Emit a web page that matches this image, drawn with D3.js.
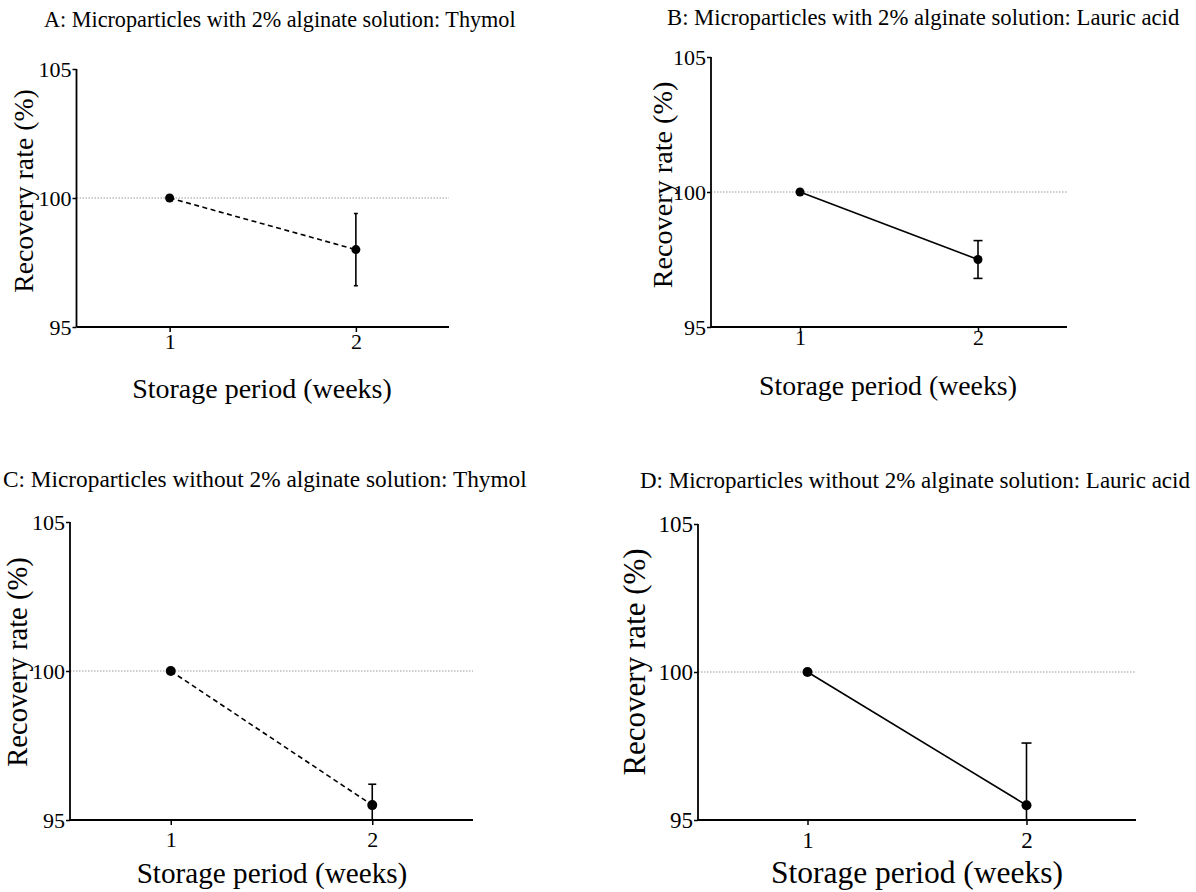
<!DOCTYPE html>
<html>
<head>
<meta charset="utf-8">
<script src="https://cdn.jsdelivr.net/npm/d3@7"></script>
<style>
  html, body { margin: 0; padding: 0; background: #fff; }
  svg { display: block; font-family: "Liberation Serif", "Times New Roman", serif; }
</style>
</head>
<body>
<svg id="chart" width="1196" height="892"></svg>
<script>
// ---- data ----
const weeks = [1, 2];
const xTickLabels = ["1", "2"];
const yTicks = [95, 100, 105];
const referenceLine = 100;

const meanA = [100, 98.0];
const errA  = [0, 1.4];
const meanB = [100, 97.5];
const errB  = [0, 0.7];
const meanC = [100, 95.5];
const errC  = [0, 0.7];
const meanD = [100, 95.5];
const errD  = [0, 2.1];

const titles = [
  "A: Microparticles with 2% alginate solution: Thymol",
  "B: Microparticles with 2% alginate solution: Lauric acid",
  "C: Microparticles without 2% alginate solution: Thymol",
  "D: Microparticles without 2% alginate solution: Lauric acid"
];
const yLabel = "Recovery rate (%)";
const xLabel = "Storage period (weeks)";

// ---- layout ----
const panels = [
  { mean: meanA, err: errA, title: titles[0], dashed: true,
    L: 76.5, R: 449, T: 69, B: 327, tx: 44, ty: 27, tfs: 22.2,
    ylx: 23, yly: 191, ylfs: 27.8, xlx: 262, xly: 398, xlfs: 28, tickfs: 22, xpad: 1.5, r: 4.5, cap: 4 },
  { mean: meanB, err: errB, title: titles[1], dashed: false,
    L: 711, R: 1067, T: 57, B: 327, tx: 667, ty: 25, tfs: 22.7,
    ylx: 662, yly: 185, ylfs: 28.2, xlx: 888, xly: 395, xlfs: 27.8, tickfs: 22, xpad: -3, r: 4.5, cap: 9 },
  { mean: meanC, err: errC, title: titles[2], dashed: true,
    L: 70, R: 473, T: 522, B: 820, tx: 3, ty: 487, tfs: 23.3,
    ylx: 17, yly: 662, ylfs: 28.6, xlx: 272, xly: 883, xlfs: 29.2, tickfs: 22, xpad: 6, r: 5, cap: 8 },
  { mean: meanD, err: errD, title: titles[3], dashed: false,
    L: 698, R: 1136, T: 524, B: 820, tx: 640, ty: 488, tfs: 23,
    ylx: 634, yly: 662, ylfs: 31, xlx: 917, xly: 883, xlfs: 31.5, tickfs: 23, xpad: 7, r: 5, cap: 10 }
];

const svg = d3.select("#chart");

panels.forEach((p, i) => {
  const x = d3.scaleLinear().domain([0.5, 2.5]).range([p.L, p.R]);
  const y = d3.scaleLinear().domain([95, 105]).range([p.B, p.T]);
  const g = svg.append("g");

  g.append("clipPath").attr("id", "clip" + i)
    .append("rect").attr("x", p.L).attr("y", p.T - 10).attr("width", p.R - p.L + 10).attr("height", p.B - p.T + 10);

  // title
  g.append("text").attr("x", p.tx).attr("y", p.ty)
    .attr("font-size", p.tfs).attr("fill", "#000").text(p.title);

  // reference dotted line
  g.append("line")
    .attr("x1", p.L).attr("x2", p.R)
    .attr("y1", y(referenceLine)).attr("y2", y(referenceLine))
    .attr("stroke", "#999").attr("stroke-width", 1).attr("stroke-dasharray", "1.5,1.5");

  // y axis
  const yAxis = d3.axisLeft(y).tickValues(yTicks).tickSize(4).tickPadding(1).tickFormat(d3.format("d"));
  const ya = g.append("g").attr("transform", `translate(${p.L},0)`).call(yAxis);
  // x axis
  const xAxis = d3.axisBottom(x).tickValues(weeks).tickSize(5).tickPadding(p.xpad)
    .tickFormat((d, k) => xTickLabels[k]);
  const xa = g.append("g").attr("transform", `translate(0,${p.B})`).call(xAxis);

  [ya, xa].forEach(a => {
    a.select(".domain").attr("stroke", "#000").attr("stroke-width", 1.8);
    a.selectAll(".tick line").attr("stroke", "#000").attr("stroke-width", 1.5);
    a.selectAll(".tick text").attr("font-family", "Liberation Serif, Times New Roman, serif")
      .attr("font-size", p.tickfs).attr("fill", "#000");
  });
  ya.select(".domain").attr("d", `M0,${p.T}V${p.B}`);
  xa.select(".domain").attr("d", `M${p.L},0H${p.R}`);

  // connecting line
  const pts = weeks.map((w, k) => ({ w, m: p.mean[k], e: p.err[k] }));
  g.append("path").datum(pts)
    .attr("d", d3.line().x(d => x(d.w)).y(d => y(d.m)))
    .attr("fill", "none").attr("stroke", "#000").attr("stroke-width", 1.6)
    .attr("stroke-dasharray", p.dashed ? "5,3.5" : null);

  // error bars (clipped to plot area)
  const eb = g.append("g").attr("clip-path", `url(#clip${i})`);
  pts.filter(d => d.e > 0).forEach(d => {
    eb.append("line").attr("x1", x(d.w)).attr("x2", x(d.w))
      .attr("y1", y(d.m + d.e)).attr("y2", y(d.m - d.e))
      .attr("stroke", "#000").attr("stroke-width", 1.6);
    [d.m + d.e, d.m - d.e].forEach(v => {
      eb.append("line").attr("x1", x(d.w) - p.cap / 2).attr("x2", x(d.w) + p.cap / 2)
        .attr("y1", y(v)).attr("y2", y(v))
        .attr("stroke", "#000").attr("stroke-width", 1.6);
    });
  });

  // points
  g.selectAll("circle.pt").data(pts).enter().append("circle")
    .attr("cx", d => x(d.w)).attr("cy", d => y(d.m)).attr("r", p.r).attr("fill", "#000");

  // axis labels
  g.append("text").attr("transform", `translate(${p.ylx},${p.yly}) rotate(-90)`)
    .attr("text-anchor", "middle").attr("dominant-baseline", "central")
    .attr("font-size", p.ylfs).attr("fill", "#000").text(yLabel);
  g.append("text").attr("x", p.xlx).attr("y", p.xly)
    .attr("text-anchor", "middle").attr("font-size", p.xlfs).attr("fill", "#000").text(xLabel);
});
</script>
</body>
</html>
